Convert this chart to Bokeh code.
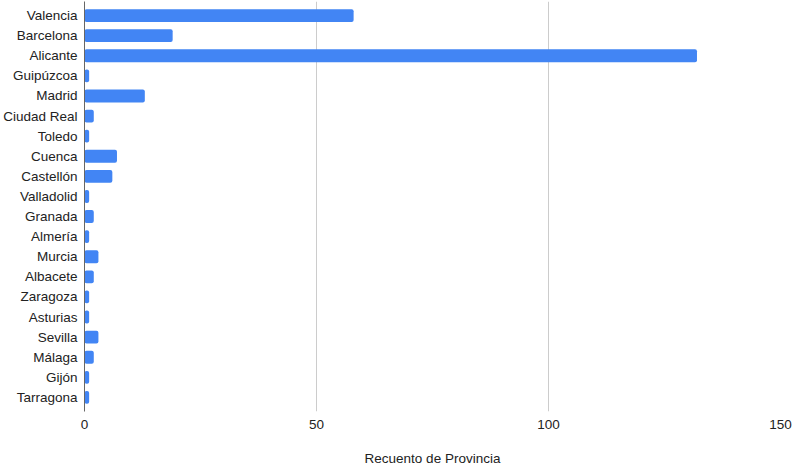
from bokeh.plotting import figure
from bokeh.models import FactorRange, Range1d, FixedTicker, ColumnDataSource
from bokeh.embed import file_html
from bokeh.resources import INLINE

# Count of records per province
provincias = ["Valencia", "Barcelona", "Alicante", "Guipúzcoa", "Madrid",
              "Ciudad Real", "Toledo", "Cuenca", "Castellón", "Valladolid",
              "Granada", "Almería", "Murcia", "Albacete", "Zaragoza",
              "Asturias", "Sevilla", "Málaga", "Gijón", "Tarragona"]
recuento = [58, 19, 132, 1, 13, 2, 1, 7, 6, 1,
            2, 1, 3, 2, 1, 1, 3, 2, 1, 1]
x_ticks = [0, 50, 100, 150]

FONT = "Liberation Sans"
SIZE = "13.5px"
BAR = "#4285F4"

source = ColumnDataSource(data=dict(provincia=provincias, recuento=recuento))

p = figure(
    width=792, height=468,
    y_range=FactorRange(*reversed(provincias), range_padding=0.02),
    x_range=Range1d(0, 150),
    output_backend="svg", toolbar_location=None,
    min_border_left=84, min_border_right=12, min_border_top=1,
    min_border_bottom=57,
)

p.hbar(y="provincia", right="recuento", left=0, height=0.64, source=source,
       fill_color=BAR, line_color=None, border_radius=2)

p.outline_line_color = None
p.background_fill_color = "white"
p.border_fill_color = "white"

# category axis
p.yaxis.axis_line_color = "#666666"
p.yaxis.axis_line_width = 1
p.yaxis.major_tick_line_color = None
p.yaxis.major_tick_out = 0
p.yaxis.major_tick_in = 0
p.yaxis.minor_tick_line_color = None
p.yaxis.major_label_text_font = FONT
p.yaxis.major_label_text_font_size = SIZE
p.yaxis.major_label_text_color = "#222222"
p.yaxis.major_label_standoff = 7

# value axis
p.xaxis.ticker = FixedTicker(ticks=x_ticks)
p.xaxis.axis_line_color = None
p.xaxis.major_tick_line_color = None
p.xaxis.major_tick_out = 0
p.xaxis.major_tick_in = 0
p.xaxis.minor_tick_line_color = None
p.xaxis.major_label_text_font = FONT
p.xaxis.major_label_text_font_size = SIZE
p.xaxis.major_label_text_color = "#222222"
p.xaxis.major_label_standoff = 8
p.xaxis.axis_label = "Recuento de Provincia"
p.xaxis.axis_label_text_font = FONT
p.xaxis.axis_label_text_font_size = SIZE
p.xaxis.axis_label_text_font_style = "normal"
p.xaxis.axis_label_text_color = "#222222"
p.xaxis.axis_label_standoff = 19

p.ygrid.grid_line_color = None
p.xgrid.grid_line_color = "#cccccc"
p.xgrid.grid_line_width = 1

open("out.html", "w").write(file_html(p, INLINE))
